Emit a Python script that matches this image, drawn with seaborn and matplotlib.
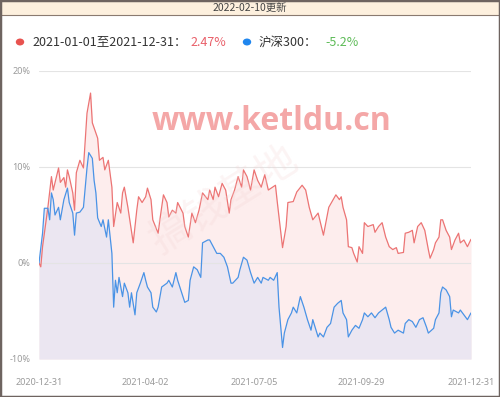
import matplotlib
matplotlib.use("Agg")
import matplotlib.pyplot as plt
from matplotlib.patches import Rectangle
import seaborn as sns
import pandas as pd

# ------------------------------------------------------------
# Données (index de jour de bourse, rendement cumulé en %)
# ------------------------------------------------------------
fund_days = [0, 1, 2, 5, 7, 8, 11, 12, 14, 15, 16, 17, 19, 20, 21, 23, 25, 27, 29, 30,
             33, 34, 36, 37, 39, 41, 42, 44, 46, 47, 48, 50, 53, 55, 56, 58, 60, 61, 63, 64,
             67, 68, 70, 72, 73, 75, 77, 78, 81, 82, 84, 86, 88, 90, 92, 95, 96, 98, 99, 101,
             103, 105, 107, 108, 110, 112, 114, 115, 117, 119, 121, 123, 125, 127, 129, 133, 134, 137, 139, 140,
             143, 145, 148, 150, 152, 154, 157, 160, 163, 167, 169, 170, 171, 173, 174, 176, 177, 179, 180, 182,
             183, 185, 188, 189, 191, 193, 195, 197, 199, 201, 202, 205, 206, 208, 210, 211, 213, 215, 217, 219,
             220, 222, 223, 225, 226, 227, 229, 231, 232, 234, 236, 237, 239, 241, 243]
fund_vals = [0.0, -0.4, 1.7, 5.8, 9.0, 7.6, 9.9, 8.4, 8.9, 7.9, 9.7, 9.0, 7.3, 5.5, 9.4, 10.7, 9.9, 15.6, 17.7, 14.6,
             13.0, 10.7, 11.0, 9.7, 10.7, 7.9, 3.8, 6.3, 5.2, 7.3, 7.9, 5.8, 2.1, 5.5, 6.9, 6.3, 6.9, 7.8, 6.6, 4.5,
             3.1, 4.5, 7.1, 6.3, 4.8, 5.5, 5.2, 6.3, 5.2, 3.8, 2.7, 5.2, 4.2, 5.5, 7.3, 6.6, 7.6, 6.6, 7.9, 6.9,
             8.3, 7.6, 5.2, 6.6, 7.6, 9.0, 7.9, 9.7, 9.0, 7.6, 9.7, 8.6, 7.9, 9.2, 7.6, 8.1, 6.4, 1.6, 3.8, 6.3,
             6.4, 7.4, 8.1, 7.6, 5.8, 4.5, 5.2, 2.9, 5.8, 7.1, 6.6, 6.9, 5.8, 4.5, 1.7, 1.6, 1.0, 0.1, 1.7, 1.0,
             4.2, 3.8, 4.0, 3.2, 3.8, 4.2, 2.7, 1.7, 1.4, 1.6, 1.0, 1.1, 3.1, 3.2, 3.4, 2.1, 3.8, 4.2, 3.4, 1.4,
             0.5, 1.4, 2.1, 2.7, 4.5, 4.5, 3.4, 2.7, 1.4, 2.4, 3.1, 2.1, 2.4, 1.7, 2.47]

hs_days = [0, 2, 3, 5, 6, 7, 8, 9, 11, 12, 14, 16, 17, 19, 20, 21, 23, 25, 27, 28,
           30, 31, 32, 33, 35, 36, 38, 39, 41, 42, 43, 44, 45, 47, 48, 50, 51, 52, 54, 55,
           57, 59, 60, 61, 63, 64, 66, 67, 69, 72, 73, 75, 77, 78, 81, 82, 84, 85, 87, 89,
           91, 92, 95, 96, 98, 100, 102, 104, 106, 108, 109, 112, 113, 115, 117, 119, 121, 123, 125, 126,
           129, 130, 132, 134, 135, 137, 138, 140, 142, 143, 145, 147, 149, 151, 153, 154, 157, 158, 160, 162,
           164, 166, 168, 170, 171, 173, 174, 176, 178, 180, 182, 183, 185, 187, 189, 191, 193, 195, 197, 198,
           200, 202, 205, 206, 208, 210, 212, 214, 216, 218, 219, 222, 223, 225, 226, 227, 229, 231, 232, 233,
           236, 237, 239, 241, 243]
hs_vals = [0.0, 3.1, 5.7, 5.7, 4.5, 7.3, 6.6, 5.0, 5.8, 4.5, 6.6, 7.8, 6.3, 5.2, 2.9, 5.2, 5.3, 5.8, 9.9, 11.5,
           10.9, 8.6, 7.3, 4.7, 3.8, 4.5, 2.7, 4.5, 1.0, -4.6, -1.8, -3.1, -1.5, -3.5, -2.1, -3.1, -4.6, -3.1, -5.4, -3.1,
           -2.1, -1.0, -1.8, -2.5, -3.1, -4.6, -5.1, -4.6, -2.5, -2.1, -1.8, -2.5, -1.0, -1.8, -3.5, -4.1, -3.9, -1.8, -0.4, -0.7,
           -1.5, 2.1, 2.4, 2.4, 1.7, 1.0, 1.0, 0.6, -0.4, -2.1, -2.1, -1.5, -0.7, 0.6, 0.3, -1.0, -2.1, -1.5, -2.1, -1.5,
           -1.8, -1.5, -1.8, -1.0, -4.6, -8.8, -7.3, -5.9, -5.2, -4.6, -5.2, -3.5, -4.6, -5.9, -7.0, -5.9, -7.7, -7.3, -7.7, -6.7,
           -6.3, -4.6, -4.2, -3.9, -5.2, -5.9, -7.7, -7.0, -6.5, -6.8, -5.9, -5.2, -5.6, -5.2, -5.7, -5.2, -4.9, -4.6, -5.9, -6.7,
           -7.3, -7.0, -7.3, -6.3, -5.9, -6.1, -6.7, -5.9, -5.7, -6.7, -7.3, -6.8, -5.9, -5.2, -3.1, -2.5, -2.8, -3.5, -5.6, -4.9,
           -5.2, -4.9, -5.4, -5.9, -5.2]

tick_days = [0, 60, 121, 181, 243]
tick_labels = ["2020-12-31", "2021-04-02", "2021-07-05", "2021-09-29", "2021-12-31"]
y_ticks = [-10, 0, 10, 20]

fund_name = "2021-01-01至2021-12-31："
fund_ret = "2.47%"
hs_name = "沪深300："
hs_ret = "-5.2%"
update_text = "2022-02-10更新"

df_fund = pd.DataFrame({"day": fund_days, "ret": fund_vals})
df_hs = pd.DataFrame({"day": hs_days, "ret": hs_vals})

# ------------------------------------------------------------
# Style
# ------------------------------------------------------------
sns.set_style("white")
plt.rcParams["font.family"] = ["Noto Sans CJK SC", "DejaVu Sans"]

W, H = 500, 397
fig = plt.figure(figsize=(5, 3.97), dpi=100)


def fx(x):
    return x / W


def fy(y):
    return 1 - y / H


red = "#ec7474"
blue = "#4a93e6"

ax = fig.add_axes([fx(39), fy(359), fx(471) - fx(39), fy(71) - fy(359)])

# aires
ax.fill_between(df_fund["day"], df_fund["ret"], -10, color="#fdeded", lw=0, zorder=1)
ax.fill_between(df_hs["day"], df_hs["ret"], -10, color="#ebe6f1", lw=0, zorder=2)

sns.lineplot(data=df_fund, x="day", y="ret", ax=ax, color=red, lw=0.9, zorder=4)
sns.lineplot(data=df_hs, x="day", y="ret", ax=ax, color=blue, lw=0.9, zorder=5)

ax.set_xlim(0, 243)
ax.set_ylim(-10, 20)
ax.set_yticks(y_ticks)
ax.set_yticklabels([f"{v}%" for v in y_ticks])
ax.set_xticks(tick_days)
ax.set_xticklabels(tick_labels)
ax.tick_params(axis="both", length=0, labelsize=6.5, labelcolor="#9a9a9a")
ax.tick_params(axis="x", pad=14)
ax.tick_params(axis="y", pad=6)
for t in ax.get_xticklabels():
    t.set_fontfamily(["Noto Sans", "DejaVu Sans"])
for t in ax.get_yticklabels():
    t.set_fontfamily(["Noto Sans", "DejaVu Sans"])
for v in y_ticks:
    ax.axhline(v, color="#e4e4e4", lw=0.8, zorder=0 if v != 0 else 3)
ax.set_xlabel("")
ax.set_ylabel("")
for s in ax.spines.values():
    s.set_visible(False)
ax.patch.set_alpha(0)

# filigranes
fig.text(fx(271), fy(121), "www.ketldu.cn", ha="center", va="center", fontsize=23,
         fontweight="bold", color="#f4a7a7", family=["Open Sans", "DejaVu Sans"], zorder=6)
fig.text(fx(225), fy(200), "搞钱基地", ha="center", va="center", fontsize=30, rotation=32,
         color="#f3d3d3", alpha=0.25, zorder=6)

# en-tête
fig.patches.append(Rectangle((0, fy(15)), 1, 1 - fy(15), transform=fig.transFigure,
                             facecolor="#fdf0de", edgecolor="#8a7a70", lw=0.8, zorder=0))
fig.text(0.5, fy(8), update_text, ha="center", va="center", fontsize=7.5, color="#444444")

# légende
fig.patches.append(plt.Circle((fx(20), fy(42)), 3.5 / W, transform=fig.transFigure,
                              color="#e8524f", zorder=3))
fig.patches.append(plt.Circle((fx(247), fy(42)), 3.5 / W, transform=fig.transFigure,
                              color="#1f86ee", zorder=3))
fig.text(fx(32), fy(42), fund_name, ha="left", va="center", fontsize=9, color="#333333")
fig.text(fx(190), fy(42), fund_ret, ha="left", va="center", fontsize=9, color="#e9606a")
fig.text(fx(259), fy(42), hs_name, ha="left", va="center", fontsize=9, color="#333333")
fig.text(fx(325), fy(42), hs_ret, ha="left", va="center", fontsize=9, color="#5dbb57")

# cadre
fig.patches.append(Rectangle((0, 0), 1, 1, transform=fig.transFigure, fill=False,
                             edgecolor="#6e6460", lw=2.5, zorder=10))

fig.savefig("out.png", dpi=100)
